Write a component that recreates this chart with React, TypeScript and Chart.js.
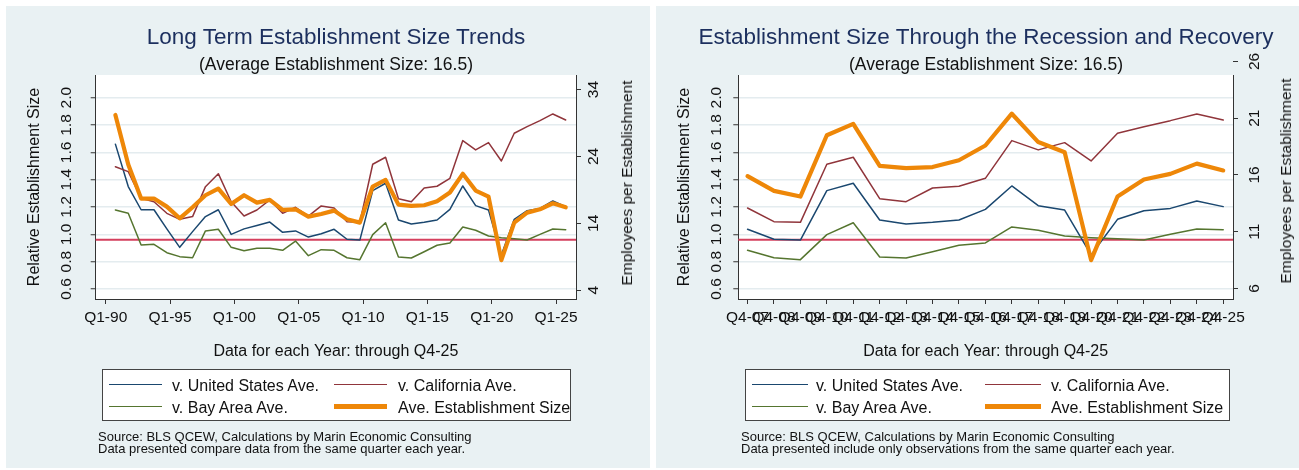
import React, { useEffect, useRef } from 'react';
import { Chart, registerables } from 'chart.js';

Chart.register(...registerables);

const FONT = '"Liberation Sans", Arial, Helvetica, sans-serif';
Chart.defaults.font.family = FONT;

// ---------------- data ----------------
const longYears = [1990, 1991, 1992, 1993, 1994, 1995, 1996, 1997, 1998, 1999, 2000, 2001, 2002, 2003, 2004, 2005, 2006, 2007, 2008, 2009, 2010, 2011, 2012, 2013, 2014, 2015, 2016, 2017, 2018, 2019, 2020, 2021, 2022, 2023, 2024, 2025];
const usRel = [1.66, 1.35, 1.18, 1.18, 1.04, 0.905, 1.02, 1.13, 1.18, 1.0, 1.04, 1.065, 1.09, 1.015, 1.025, 0.98, 1.005, 1.037, 0.964, 0.958, 1.32, 1.374, 1.105, 1.076, 1.088, 1.105, 1.183, 1.354, 1.21, 1.178, 0.849, 1.11, 1.173, 1.19, 1.244, 1.203];
const caRel = [1.495, 1.459, 1.264, 1.239, 1.154, 1.11, 1.13, 1.349, 1.444, 1.239, 1.134, 1.178, 1.252, 1.154, 1.198, 1.134, 1.208, 1.193, 1.093, 1.088, 1.513, 1.564, 1.261, 1.239, 1.339, 1.352, 1.41, 1.686, 1.618, 1.671, 1.537, 1.74, 1.788, 1.832, 1.881, 1.837];
const bayRel = [1.178, 1.154, 0.922, 0.927, 0.866, 0.837, 0.829, 1.025, 1.037, 0.905, 0.88, 0.898, 0.898, 0.883, 0.951, 0.844, 0.888, 0.883, 0.829, 0.815, 0.998, 1.085, 0.834, 0.827, 0.873, 0.92, 0.937, 1.054, 1.03, 0.988, 0.976, 0.968, 0.959, 1.0, 1.039, 1.034];
const avgSize = [30.2, 22.8, 17.7, 17.7, 16.5, 14.75, 16.4, 18.2, 19.2, 16.9, 18.2, 17.1, 17.5, 16.0, 16.1, 15.0, 15.4, 15.9, 14.6, 14.1, 19.5, 20.5, 16.8, 16.6, 16.7, 17.3, 18.6, 21.4, 18.9, 18.0, 8.5, 14.1, 15.6, 16.1, 17.0, 16.4];

const longTickYears = [1990, 1995, 2000, 2005, 2010, 2015, 2020, 2025];
const longTickLabels = ['Q1-90', 'Q1-95', 'Q1-00', 'Q1-05', 'Q1-10', 'Q1-15', 'Q1-20', 'Q1-25'];
const q4Offset = 0.75; // observations are Q4 of each year

const recessionStartYear = 2007;
const recessionLabels = ['Q4-07', 'Q4-08', 'Q4-09', 'Q4-10', 'Q4-11', 'Q4-12', 'Q4-13', 'Q4-14', 'Q4-15', 'Q4-16', 'Q4-17', 'Q4-18', 'Q4-19', 'Q4-20', 'Q4-21', 'Q4-22', 'Q4-23', 'Q4-24', 'Q4-25'];

const relTicks = [0.6, 0.8, 1.0, 1.2, 1.4, 1.6, 1.8, 2.0];
const longSizeTicks = [4, 14, 24, 34];
const recessionSizeTicks = [6, 11, 16, 21, 26];
const referenceLevel = 0.96;

const seriesNames = ['v. United States Ave.', 'v. California Ave.', 'v. Bay Area Ave.', 'Ave. Establishment Size'];

// ---------------- styles ----------------
const COLORS = { us: '#1a476f', ca: '#90353b', bay: '#55752f', avg: '#ee8708', ref: '#d4405e' };
const AXIS = '#333333';
const GRID = '#e4ecef';
const PANEL_BG = '#e9f1f3';
const TEXT = '#111111';
const TITLE = '#1c2f5e';

const legendItems = [
  { name: seriesNames[0], color: COLORS.us, width: 1.8 },
  { name: seriesNames[1], color: COLORS.ca, width: 1.8 },
  { name: seriesNames[2], color: COLORS.bay, width: 1.8 },
  { name: seriesNames[3], color: COLORS.avg, width: 4.5 },
];

type Spec = {
  xs: number[]; us: number[]; ca: number[]; bay: number[]; avg: number[];
  xMin: number; xMax: number; xTicks: number[]; xTickLabel: (v: number) => string;
  yMin: number; yMax: number; y1Min: number; y1Max: number; y1Ticks: number[];
  leftWidth: number; rightWidth: number; leftTickPad: number; rightTickPad: number;
};

const recIdx = longYears.indexOf(recessionStartYear);

const longSpec: Spec = {
  xs: longYears.map((y) => y + q4Offset),
  us: usRel, ca: caRel, bay: bayRel, avg: avgSize,
  xMin: 1989.22, xMax: 2026.55, xTicks: longTickYears,
  xTickLabel: (v) => longTickLabels[longTickYears.indexOf(v)] ?? '',
  yMin: 0.527, yMax: 2.166, y1Min: 2.684, y1Max: 36.18, y1Ticks: longSizeTicks,
  leftWidth: 89.7, rightWidth: 73, leftTickPad: 13, rightTickPad: 4.4,
};

const recessionSpec: Spec = {
  xs: recessionLabels.map((_, i) => i),
  us: usRel.slice(recIdx), ca: caRel.slice(recIdx), bay: bayRel.slice(recIdx), avg: avgSize.slice(recIdx),
  xMin: -0.35, xMax: 18.37, xTicks: recessionLabels.map((_, i) => i),
  xTickLabel: (v) => recessionLabels[v] ?? '',
  yMin: 0.527, yMax: 2.166, y1Min: 5.075, y1Max: 24.81, y1Ticks: recessionSizeTicks,
  leftWidth: 82.3, rightWidth: 66, leftTickPad: 5.5, rightTickPad: 8.4,
};

const plotBg = {
  id: 'plotBg',
  beforeDraw(chart: any) {
    const { ctx, chartArea } = chart;
    ctx.save();
    ctx.fillStyle = '#ffffff';
    ctx.fillRect(chartArea.left, chartArea.top, chartArea.right - chartArea.left, chartArea.bottom - chartArea.top);
    ctx.restore();
  },
};

const outsideTicks = {
  id: 'outsideTicks',
  afterDraw(chart: any) {
    const s = chart.scales.y1;
    if (!s) return;
    const { ctx, chartArea } = chart;
    ctx.save();
    ctx.strokeStyle = AXIS;
    ctx.lineWidth = 1;
    s.ticks.forEach((t: any) => {
      const py = s.getPixelForValue(t.value);
      if (py < chartArea.top - 0.5 || py > chartArea.bottom + 0.5) {
        const yy = Math.round(py) + 0.5;
        ctx.beginPath();
        ctx.moveTo(s.left, yy);
        ctx.lineTo(s.left + 5, yy);
        ctx.stroke();
      }
    });
    ctx.restore();
  },
};

function buildConfig(p: Spec): any {
  const pts = (ys: number[]) => ys.map((y, i) => ({ x: p.xs[i], y }));
  const line = { pointRadius: 0, fill: false, tension: 0, borderJoinStyle: 'round', borderCapStyle: 'round' };
  const tickFont = { family: FONT, size: 15.5 };
  return {
    type: 'line',
    data: {
      datasets: [
        { ...line, label: seriesNames[3], data: pts(p.avg), yAxisID: 'y1', borderColor: COLORS.avg, borderWidth: 4.2, order: 0 },
        { ...line, label: seriesNames[2], data: pts(p.bay), yAxisID: 'y', borderColor: COLORS.bay, borderWidth: 1.5, order: 1 },
        { ...line, label: seriesNames[1], data: pts(p.ca), yAxisID: 'y', borderColor: COLORS.ca, borderWidth: 1.5, order: 2 },
        { ...line, label: seriesNames[0], data: pts(p.us), yAxisID: 'y', borderColor: COLORS.us, borderWidth: 1.5, order: 3 },
        { ...line, label: 'reference', data: [{ x: p.xMin, y: referenceLevel }, { x: p.xMax, y: referenceLevel }], yAxisID: 'y', borderColor: COLORS.ref, borderWidth: 2, order: 4 },
      ],
    },
    options: {
      animation: false,
      responsive: false,
      maintainAspectRatio: false,
      devicePixelRatio: 1,
      layout: { padding: { top: 69, left: 0, right: 0, bottom: 100 } },
      plugins: { legend: { display: false }, tooltip: { enabled: false }, title: { display: false } },
      scales: {
        x: {
          type: 'linear', min: p.xMin, max: p.xMax,
          afterBuildTicks: (s: any) => { s.ticks = p.xTicks.map((v) => ({ value: v })); },
          afterFit: (s: any) => { s.height = 69; },
          grid: { display: true, drawOnChartArea: false, drawTicks: true, tickLength: 5, tickColor: AXIS, tickWidth: 1 },
          border: { display: true, color: AXIS, width: 1 },
          ticks: { autoSkip: false, maxRotation: 0, minRotation: 0, padding: 4, color: TEXT, font: tickFont, callback: (v: any) => p.xTickLabel(Number(v)) },
          title: { display: true, text: 'Data for each Year: through Q4-25', color: TEXT, font: { family: FONT, size: 16 }, padding: { top: 0, bottom: 6.7 } },
        },
        y: {
          type: 'linear', position: 'left', min: p.yMin, max: p.yMax,
          afterBuildTicks: (s: any) => { s.ticks = relTicks.map((v) => ({ value: v })); },
          afterFit: (s: any) => { s.width = p.leftWidth; },
          grid: { display: true, color: GRID, lineWidth: 1.5, drawTicks: true, tickLength: 5, tickColor: AXIS, tickWidth: 1 },
          border: { display: true, color: AXIS, width: 1 },
          ticks: { minRotation: 90, maxRotation: 90, crossAlign: 'center', padding: p.leftTickPad, color: TEXT, font: tickFont, callback: (v: any) => Number(v).toFixed(1) },
          title: { display: true, text: 'Relative Establishment Size', color: TEXT, font: { family: FONT, size: 16 }, padding: { top: 19.4, bottom: 0 } },
        },
        y1: {
          type: 'linear', position: 'right', min: p.y1Min, max: p.y1Max,
          afterBuildTicks: (s: any) => { s.ticks = p.y1Ticks.map((v) => ({ value: v })); },
          afterFit: (s: any) => { s.width = p.rightWidth; },
          grid: { display: true, drawOnChartArea: false, drawTicks: true, tickLength: 5, tickColor: AXIS, tickWidth: 1 },
          border: { display: true, color: AXIS, width: 1 },
          ticks: { minRotation: 90, maxRotation: 90, crossAlign: 'center', padding: p.rightTickPad, color: TEXT, font: tickFont, callback: (v: any) => String(v) },
        },
      },
    },
    plugins: [plotBg, outsideTicks],
  };
}

function EstChart({ spec, left }: { spec: Spec; left: number }) {
  const ref = useRef<HTMLCanvasElement>(null);
  useEffect(() => {
    const chart = new Chart(ref.current as HTMLCanvasElement, buildConfig(spec));
    return () => chart.destroy();
  }, [spec]);
  return (
    <canvas ref={ref} width={643} height={462}
      style={{ position: 'absolute', left, top: 6, width: 643, height: 462 }} />
  );
}

type PanelText = {
  panelLeft: number; panelWidth: number; cx: number; title: string;
  rightTitleX: number; rightTitleY: number;
  box: { left: number; width: number };
  c1Line: number; c1Text: number; c2Line: number; c2Text: number; lineLen: number;
  noteX: number; note2: string;
};

function Texts({ t }: { t: PanelText }) {
  const abs: React.CSSProperties = { position: 'absolute', whiteSpace: 'nowrap' };
  const rows = [386, 408];
  const cols = [{ line: t.c1Line, text: t.c1Text }, { line: t.c2Line, text: t.c2Text }];
  return (
    <>
      <div style={{ ...abs, left: t.cx - 400, width: 800, textAlign: 'center', top: 24, lineHeight: '26px', fontSize: 22.5, color: TITLE }}>{t.title}</div>
      <div style={{ ...abs, left: t.cx - 400, width: 800, textAlign: 'center', top: 54, lineHeight: '20px', fontSize: 17.5, color: TEXT }}>(Average Establishment Size: 16.5)</div>
      <div style={{ ...abs, left: t.rightTitleX, top: t.rightTitleY, transform: 'translate(-50%, -50%) rotate(-90deg)', fontSize: 15.5, lineHeight: '18px', color: TEXT }}>Employees per Establishment</div>
      <div style={{ position: 'absolute', left: t.box.left, top: 369, width: t.box.width, height: 52, boxSizing: 'border-box', border: '1px solid #444', background: '#fff' }} />
      {legendItems.map((it, i) => {
        const r = rows[Math.floor(i / 2)];
        const c = cols[i % 2];
        return (
          <React.Fragment key={it.name}>
            <div style={{ position: 'absolute', left: c.line, top: r - 1.5 - it.width / 2, width: t.lineLen, height: it.width, background: it.color }} />
            <div style={{ ...abs, left: c.text, top: r - 10, lineHeight: '20px', fontSize: 16, color: TEXT }}>{it.name}</div>
          </React.Fragment>
        );
      })}
      <div style={{ ...abs, left: t.noteX, top: 430.5, lineHeight: '12.3px', fontSize: 13, color: TEXT }}>
        Source: BLS QCEW, Calculations by Marin Economic Consulting<br />{t.note2}
      </div>
    </>
  );
}

const leftText: PanelText = {
  panelLeft: 6, panelWidth: 644, cx: 336, title: 'Long Term Establishment Size Trends',
  rightTitleX: 627, rightTitleY: 183,
  box: { left: 102, width: 469 },
  c1Line: 109, c1Text: 172, c2Line: 334, c2Text: 398, lineLen: 53,
  noteX: 98, note2: 'Data presented compare data from the same quarter each year.',
};

const rightText: PanelText = {
  panelLeft: 656, panelWidth: 643, cx: 986, title: 'Establishment Size Through the Recession and Recovery',
  rightTitleX: 1286, rightTitleY: 181,
  box: { left: 745, width: 485 },
  c1Line: 752, c1Text: 816, c2Line: 985, c2Text: 1051, lineLen: 56,
  noteX: 741, note2: 'Data presented include only observations from the same quarter each year.',
};

export default function App() {
  useEffect(() => { document.body.style.margin = '0'; }, []);
  return (
    <div style={{ position: 'absolute', left: 0, top: 0, width: 1299, height: 470, background: '#fff', overflow: 'hidden', fontFamily: FONT }}>
      <div style={{ position: 'absolute', left: leftText.panelLeft, top: 6, width: leftText.panelWidth, height: 462, background: PANEL_BG }} />
      <div style={{ position: 'absolute', left: rightText.panelLeft, top: 6, width: rightText.panelWidth, height: 462, background: PANEL_BG }} />
      <EstChart spec={longSpec} left={6} />
      <EstChart spec={recessionSpec} left={656} />
      <Texts t={leftText} />
      <Texts t={rightText} />
    </div>
  );
}
